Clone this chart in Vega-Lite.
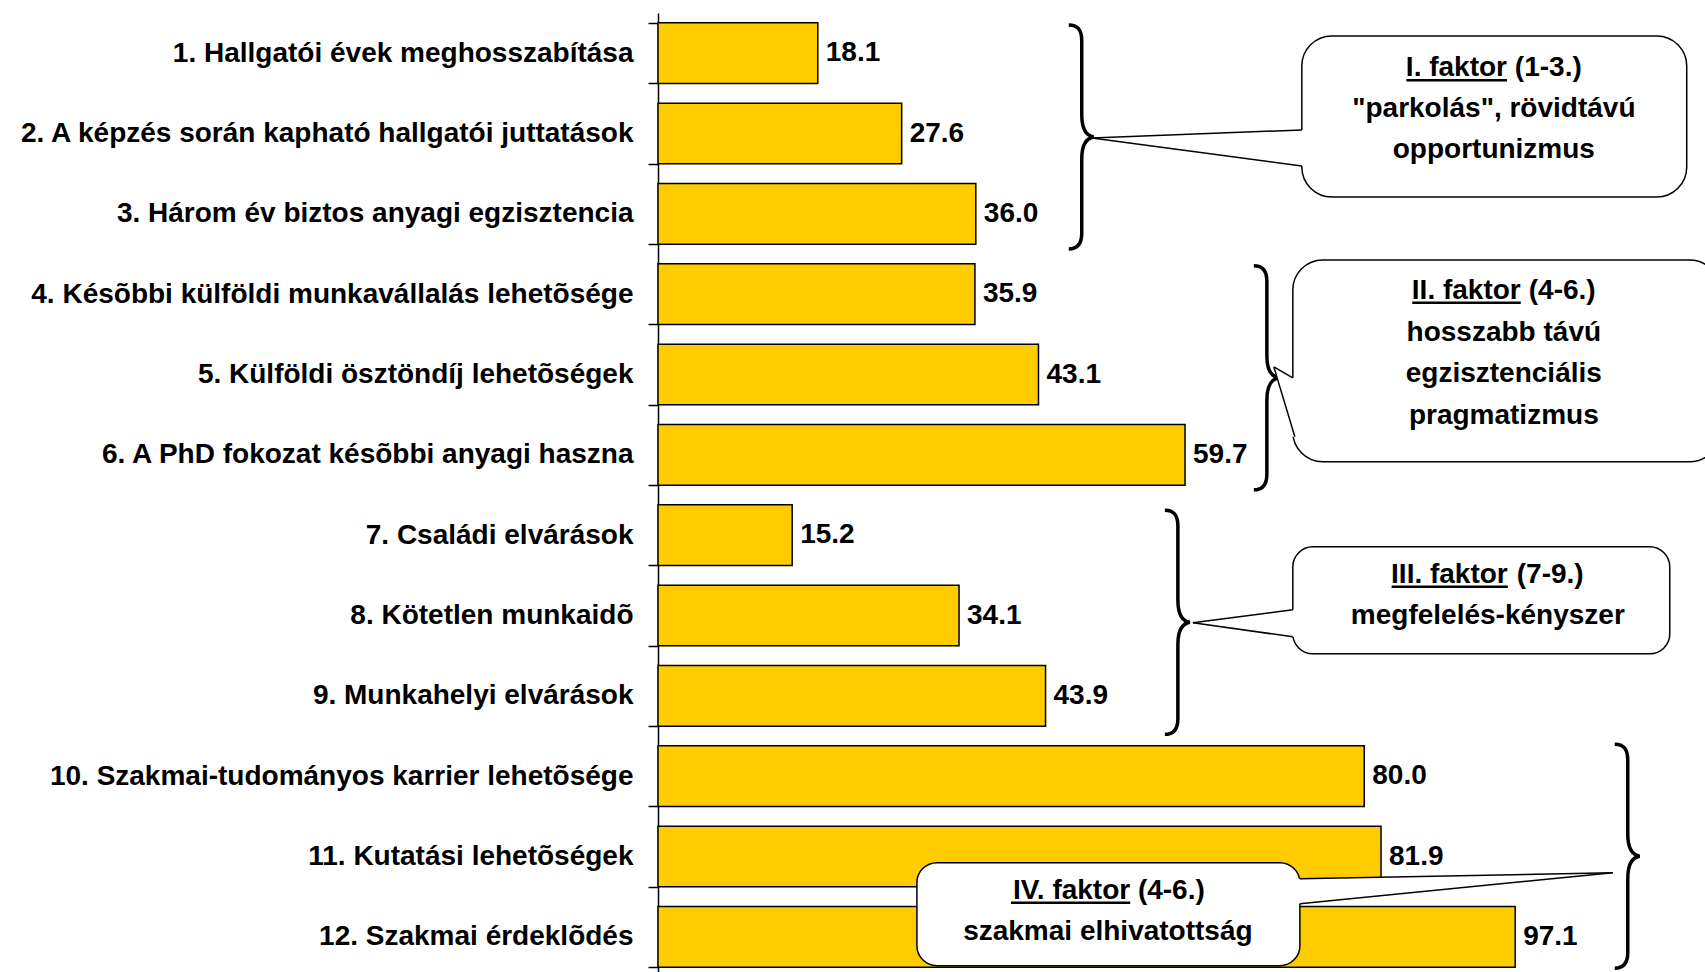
{
  "$schema": "https://vega.github.io/schema/vega-lite/v6.json",
  "autosize": "none",
  "width": 1047,
  "height": 964,
  "padding": {"left": 658, "top": 13, "right": 0, "bottom": 0},
  "background": "white",
  "config": {"view": {"stroke": null}},
  "datasets": {
    "bars": [
      {"label": "1. Hallgatói évek meghosszabítása", "value": 18.1},
      {"label": "2. A képzés során kapható hallgatói juttatások", "value": 27.6},
      {"label": "3. Három év biztos anyagi egzisztencia", "value": 36.0},
      {"label": "4. Késõbbi külföldi munkavállalás lehetõsége", "value": 35.9},
      {"label": "5. Külföldi ösztöndíj lehetõségek", "value": 43.1},
      {"label": "6. A PhD fokozat késõbbi anyagi haszna", "value": 59.7},
      {"label": "7. Családi elvárások", "value": 15.2},
      {"label": "8. Kötetlen munkaidõ", "value": 34.1},
      {"label": "9. Munkahelyi elvárások", "value": 43.9},
      {"label": "10. Szakmai-tudományos karrier lehetõsége", "value": 80.0},
      {"label": "11. Kutatási lehetõségek", "value": 81.9},
      {"label": "12. Szakmai érdeklõdés", "value": 97.1}
    ],
    "braces": [
      {"f": "I", "x": 48.0, "y": 1.543},
      {"f": "II", "x": 68.97, "y": 4.542},
      {"f": "III", "x": 58.89, "y": 7.585},
      {"f": "IV", "x": 109.85, "y": 10.497}
    ],
    "boxes": [
      {"f": "I", "x": 72.93, "x2": 116.53, "y": 0.286, "y2": 2.29},
      {"f": "II", "x": 71.91, "x2": 120.27, "y": 3.074, "y2": 5.587},
      {"f": "III", "x": 71.91, "x2": 114.61, "y": 6.645, "y2": 7.977},
      {"f": "IV", "x": 29.33, "x2": 72.71, "y": 10.577, "y2": 11.859}
    ],
    "tails": [
      {"f": "I", "x": 49.15, "y": 1.556, "y2": 1.556},
      {"f": "I", "x": 72.93, "y": 1.456, "y2": 1.904},
      {"f": "II", "x": 69.76, "y": 4.405, "y2": 4.405},
      {"f": "II", "x": 71.91, "y": 4.542, "y2": 5.276},
      {"f": "III", "x": 60.59, "y": 7.591, "y2": 7.591},
      {"f": "III", "x": 71.91, "y": 7.429, "y2": 7.765},
      {"f": "IV", "x": 72.71, "y": 10.777, "y2": 11.088},
      {"f": "IV", "x": 108.15, "y": 10.702, "y2": 10.702}
    ],
    "gaps": [
      {"f": "I", "x": 72.93, "y": 1.456, "y2": 1.904},
      {"f": "II", "x": 71.91, "y": 4.542, "y2": 5.276},
      {"f": "III", "x": 71.91, "y": 7.429, "y2": 7.765},
      {"f": "IV", "x": 72.71, "y": 10.777, "y2": 11.088}
    ],
    "edges": [
      {"f": "I", "x": 49.15, "y": 1.556, "x2": 72.93, "y2": 1.456},
      {"f": "I", "x": 49.15, "y": 1.556, "x2": 72.93, "y2": 1.904},
      {"f": "II", "x": 69.76, "y": 4.405, "x2": 71.91, "y2": 4.542},
      {"f": "II", "x": 69.76, "y": 4.405, "x2": 72.14, "y2": 5.276},
      {"f": "III", "x": 60.59, "y": 7.591, "x2": 71.91, "y2": 7.429},
      {"f": "III", "x": 60.59, "y": 7.591, "x2": 71.91, "y2": 7.765},
      {"f": "IV", "x": 108.15, "y": 10.702, "x2": 72.71, "y2": 10.777},
      {"f": "IV", "x": 108.15, "y": 10.702, "x2": 72.71, "y2": 11.088}
    ],
    "heads": [
      {"t": "I. faktor", "x": 96.17, "y": 0.786},
      {"t": "II. faktor", "x": 97.73, "y": 3.557},
      {"t": "III. faktor", "x": 96.26, "y": 7.091},
      {"t": "IV. faktor", "x": 53.49, "y": 11.026}
    ],
    "ranges": [
      {"t": "(1-3.)", "x": 97.06, "y": 0.786},
      {"t": "(4-6.)", "x": 98.64, "y": 3.557},
      {"t": "(7-9.)", "x": 97.28, "y": 7.091},
      {"t": "(4-6.)", "x": 54.36, "y": 11.026}
    ],
    "underlines": [
      {"x": 84.77, "x2": 96.17, "y": 0.836},
      {"x": 85.44, "x2": 97.73, "y": 3.606},
      {"x": 83.1, "x2": 96.26, "y": 7.141},
      {"x": 39.98, "x2": 53.49, "y": 11.075}
    ],
    "lines": [
      {"t": "\"parkolás\", rövidtávú", "x": 94.68, "y": 1.29},
      {"t": "opportunizmus", "x": 94.68, "y": 1.805},
      {"t": "hosszabb távú", "x": 95.81, "y": 4.084},
      {"t": "egzisztenciális", "x": 95.81, "y": 4.599},
      {"t": "pragmatizmus", "x": 95.81, "y": 5.115},
      {"t": "megfelelés-kényszer", "x": 94.0, "y": 7.609},
      {"t": "szakmai elhivatottság", "x": 50.96, "y": 11.542}
    ]
  },
  "resolve": {"scale": {"y": "independent"}, "axis": {"y": "independent"}},
  "layer": [
    {
      "data": {"name": "bars"},
      "encoding": {
        "y": {
          "field": "label", "type": "nominal", "sort": null,
          "scale": {"paddingInner": 0.245, "paddingOuter": 0.1225},
          "axis": {
            "title": null, "grid": false, "tickBand": "extent",
            "labelFont": "Liberation Sans, Arial, sans-serif", "labelFontWeight": "bold",
            "labelFontSize": 28, "labelColor": "black", "labelLimit": 1000,
            "labelPadding": 15, "tickSize": 10, "tickColor": "black", "tickWidth": 1.5,
            "domainColor": "black", "domainWidth": 1.5
          }
        },
        "x": {"field": "value", "type": "quantitative", "scale": {"domain": [0, 118.6], "nice": false}, "axis": null}
      },
      "layer": [
        {"mark": {"type": "bar", "fill": "#FFCC00", "stroke": "black", "strokeWidth": 1.5}},
        {
          "mark": {"type": "text", "align": "left", "baseline": "middle", "dx": 8, "font": "Liberation Sans, Arial, sans-serif", "fontWeight": "bold", "fontSize": 28, "color": "black"},
          "encoding": {"text": {"field": "value", "type": "quantitative", "format": ".1f"}}
        }
      ]
    },
    {
      "layer": [
        {
          "data": {"name": "braces"},
          "mark": {"type": "point", "filled": false, "stroke": "black", "strokeWidth": 3.5, "opacity": 1, "size": 50176,
                   "shape": "M-0.116,-1C-0.04,-1 0,-0.96 0,-0.86L0,-0.2C0,-0.08 0.04,-0.01 0.107,0C0.04,0.01 0,0.08 0,0.2L0,0.86C0,0.96 -0.04,1 -0.116,1"},
          "encoding": {
            "x": {"field": "x", "type": "quantitative", "scale": {"domain": [0, 118.6], "nice": false}, "axis": null},
            "y": {"field": "y", "type": "quantitative", "scale": {"domain": [0, 12], "reverse": true, "nice": false, "zero": false}, "axis": null}
          }
        },
        {
          "data": {"name": "boxes"},
          "transform": [{"filter": "datum.f === 'I' || datum.f === 'II'"}],
          "mark": {"type": "rect", "fill": "white", "stroke": "black", "strokeWidth": 1.5, "cornerRadius": 30},
          "encoding": {
            "x": {"field": "x", "type": "quantitative", "scale": {"domain": [0, 118.6], "nice": false}, "axis": null},
            "x2": {"field": "x2"},
            "y": {"field": "y", "type": "quantitative", "scale": {"domain": [0, 12], "reverse": true, "nice": false, "zero": false}, "axis": null},
            "y2": {"field": "y2"}
          }
        },
        {
          "data": {"name": "boxes"},
          "transform": [{"filter": "datum.f === 'III' || datum.f === 'IV'"}],
          "mark": {"type": "rect", "fill": "white", "stroke": "black", "strokeWidth": 1.5, "cornerRadius": 20},
          "encoding": {
            "x": {"field": "x", "type": "quantitative", "scale": {"domain": [0, 118.6], "nice": false}, "axis": null},
            "x2": {"field": "x2"},
            "y": {"field": "y", "type": "quantitative", "scale": {"domain": [0, 12], "reverse": true, "nice": false, "zero": false}, "axis": null},
            "y2": {"field": "y2"}
          }
        },
        {
          "data": {"name": "tails"},
          "mark": {"type": "area", "fill": "white", "strokeWidth": 0, "opacity": 1},
          "encoding": {
            "detail": {"field": "f"},
            "x": {"field": "x", "type": "quantitative", "scale": {"domain": [0, 118.6], "nice": false}, "axis": null},
            "y": {"field": "y", "type": "quantitative", "stack": null, "scale": {"domain": [0, 12], "reverse": true, "nice": false, "zero": false}, "axis": null},
            "y2": {"field": "y2"}
          }
        },
        {
          "data": {"name": "gaps"},
          "mark": {"type": "rule", "stroke": "white", "strokeWidth": 3},
          "encoding": {
            "x": {"field": "x", "type": "quantitative", "scale": {"domain": [0, 118.6], "nice": false}, "axis": null},
            "y": {"field": "y", "type": "quantitative", "scale": {"domain": [0, 12], "reverse": true, "nice": false, "zero": false}, "axis": null},
            "y2": {"field": "y2"}
          }
        },
        {
          "data": {"name": "edges"},
          "mark": {"type": "rule", "stroke": "black", "strokeWidth": 1.5},
          "encoding": {
            "x": {"field": "x", "type": "quantitative", "scale": {"domain": [0, 118.6], "nice": false}, "axis": null},
            "x2": {"field": "x2"},
            "y": {"field": "y", "type": "quantitative", "scale": {"domain": [0, 12], "reverse": true, "nice": false, "zero": false}, "axis": null},
            "y2": {"field": "y2"}
          }
        },
        {
          "data": {"name": "underlines"},
          "mark": {"type": "rule", "stroke": "black", "strokeWidth": 2.5},
          "encoding": {
            "x": {"field": "x", "type": "quantitative", "scale": {"domain": [0, 118.6], "nice": false}, "axis": null},
            "x2": {"field": "x2"},
            "y": {"field": "y", "type": "quantitative", "scale": {"domain": [0, 12], "reverse": true, "nice": false, "zero": false}, "axis": null}
          }
        },
        {
          "data": {"name": "heads"},
          "mark": {"type": "text", "align": "right", "baseline": "alphabetic", "font": "Liberation Sans, Arial, sans-serif", "fontWeight": "bold", "fontSize": 28, "color": "black"},
          "encoding": {
            "text": {"field": "t"},
            "x": {"field": "x", "type": "quantitative", "scale": {"domain": [0, 118.6], "nice": false}, "axis": null},
            "y": {"field": "y", "type": "quantitative", "scale": {"domain": [0, 12], "reverse": true, "nice": false, "zero": false}, "axis": null}
          }
        },
        {
          "data": {"name": "ranges"},
          "mark": {"type": "text", "align": "left", "baseline": "alphabetic", "font": "Liberation Sans, Arial, sans-serif", "fontWeight": "bold", "fontSize": 28, "color": "black"},
          "encoding": {
            "text": {"field": "t"},
            "x": {"field": "x", "type": "quantitative", "scale": {"domain": [0, 118.6], "nice": false}, "axis": null},
            "y": {"field": "y", "type": "quantitative", "scale": {"domain": [0, 12], "reverse": true, "nice": false, "zero": false}, "axis": null}
          }
        },
        {
          "data": {"name": "lines"},
          "mark": {"type": "text", "align": "center", "baseline": "alphabetic", "font": "Liberation Sans, Arial, sans-serif", "fontWeight": "bold", "fontSize": 28, "color": "black"},
          "encoding": {
            "text": {"field": "t"},
            "x": {"field": "x", "type": "quantitative", "scale": {"domain": [0, 118.6], "nice": false}, "axis": null},
            "y": {"field": "y", "type": "quantitative", "scale": {"domain": [0, 12], "reverse": true, "nice": false, "zero": false}, "axis": null}
          }
        }
      ]
    }
  ]
}
